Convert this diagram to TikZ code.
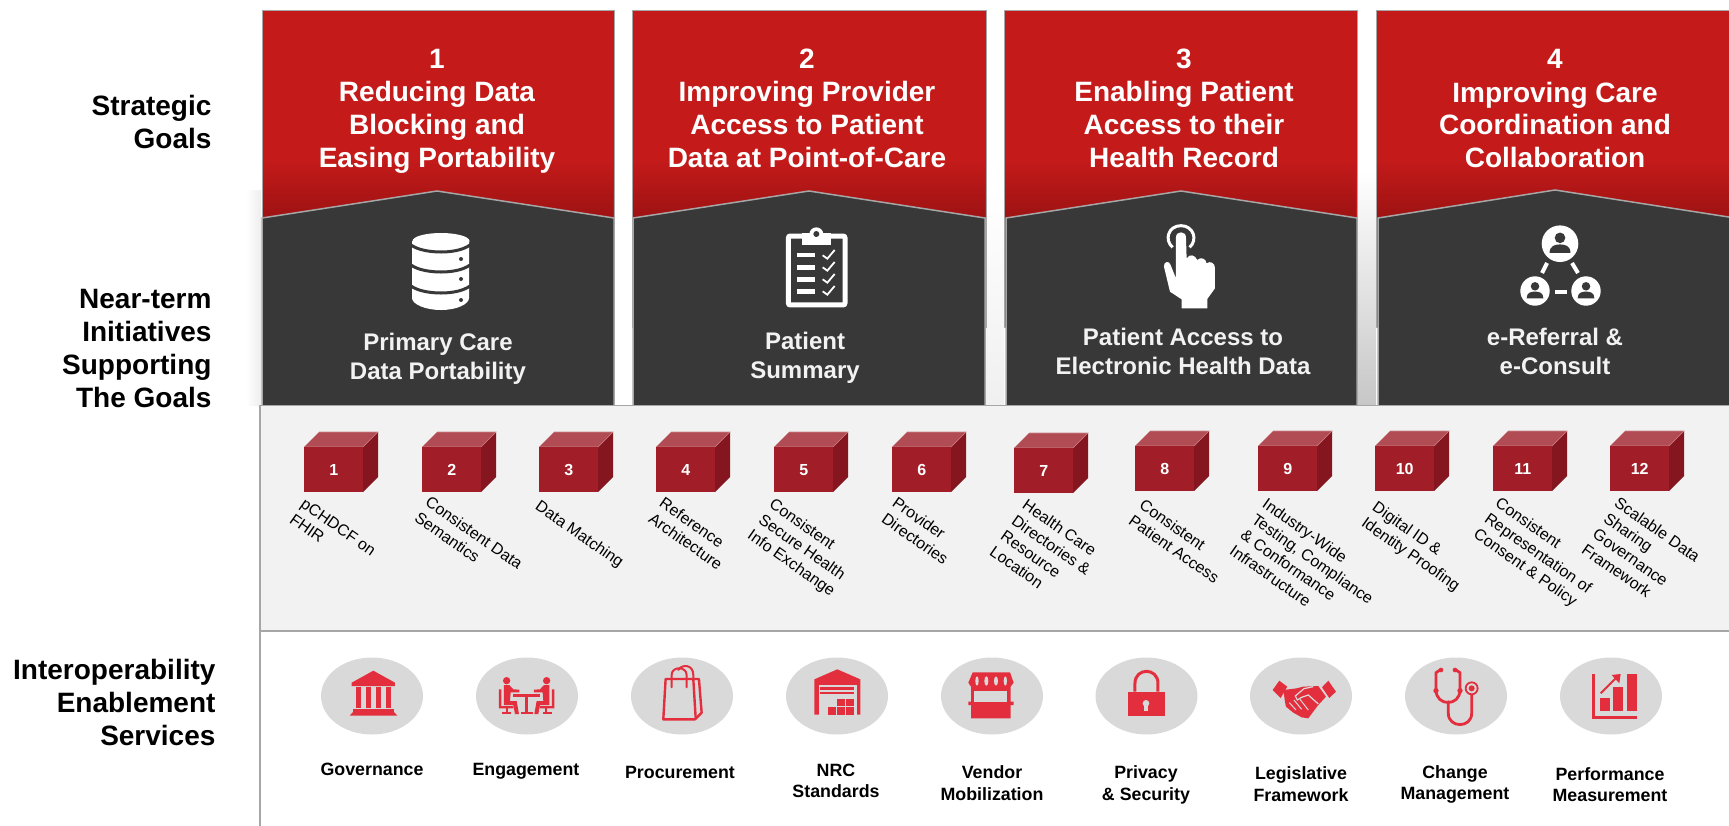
\documentclass[tikz,border=0pt]{standalone}
\usepackage{fontspec}
\setmainfont{Liberation Sans}
\usetikzlibrary{shapes.geometric}
\definecolor{goalred}{HTML}{C41A1A}
\definecolor{goaldeep}{HTML}{9C1212}
\definecolor{roofdark}{HTML}{383838}
\definecolor{edgegrey}{HTML}{A6A6A6}
\definecolor{panelgrey}{HTML}{F2F2F2}
\definecolor{ovalgrey}{HTML}{D9D9D9}
\definecolor{iconred}{HTML}{E32F3D}
\definecolor{cubefront}{HTML}{A11E28}
\definecolor{cubetop}{HTML}{B24C54}
\definecolor{cubeside}{HTML}{851620}
\tikzstyle{goalbox} = [fill=goalred, draw=edgegrey, line width=1pt]
\tikzstyle{roofbox} = [fill=roofdark, draw=edgegrey, line width=1.5pt]
\tikzstyle{goaltext} = [align=center, text=white, font=\fontsize{28}{33}\selectfont\bfseries]
\tikzstyle{rooftext} = [align=center, text=panelgrey, font=\fontsize{24}{29}\selectfont\bfseries]
\tikzstyle{rowtext} = [align=right, anchor=east, font=\fontsize{28}{33}\selectfont\bfseries]
\tikzstyle{cubenum} = [fill=cubefront, text=white, minimum width=59pt, minimum height=45pt, inner sep=0pt, anchor=north west, font=\fontsize{16}{16}\selectfont\bfseries]
\tikzstyle{cubetext} = [align=left, rotate=-35, anchor=north west, inner sep=0pt, font=\fontsize{16}{19}\selectfont]
\tikzstyle{oval} = [ellipse, fill=ovalgrey, minimum width=102pt, minimum height=77pt, inner sep=0pt]
\tikzstyle{ovaltext} = [align=center, font=\fontsize{17.8}{21.5}\selectfont\bfseries]
\tikzstyle{iconline} = [draw=iconred, line width=2.4pt, line cap=round, line join=round]
\newcommand{\cube}[4]{
\fill[cubetop] (#2,#3) -- ++(15,-15) -- ++(59,0) -- ++(-15,15) -- cycle;
\fill[cubeside] (#2+59,#3) -- ++(15,-15) -- ++(0,45) -- ++(-15,15) -- cycle;
\draw[cubetop!70!white, line width=.6pt] (#2,#3) -- ++(59,0) -- ++(15,-15) -- ++(-59,0);
\draw(#2,#3) node[cubenum](#1){#4};
}
\newcommand{\personicon}[3]{
\begin{scope}[shift={(#1,#2)},scale=#3]
\fill[white] (0,0) circle (10);
\fill[roofdark] (0,-3.2) circle (2.9);
\fill[roofdark] (-5.7,5) .. controls (-5.7,1) and (-2.5,0.4) .. (0,0.4) .. controls (2.5,0.4) and (5.7,1) .. (5.7,5) -- cycle;
\end{scope}
}
\newcommand{\sitter}{
\fill[iconred] (620,122) circle (11);
\fill[iconred] (612,135) -- (628,135) -- (640,148) -- (658,149) -- (658,157) -- (632,157) -- (630,183) -- (650,183) -- (657,222) -- (645,222) -- (640,195) -- (612,195) -- cycle;
\fill[iconred] (597,148) -- (604,148) -- (604,198) -- (640,198) -- (640,205) -- (597,205) -- cycle;
\fill[iconred] (618,205) rectangle (624,216);
\fill[iconred] (605,216) rectangle (632,223);
}
\begin{document}
\begin{tikzpicture}[x=1pt,y=-1pt]
\useasboundingbox (0,0) rectangle (1729,825);
\clip (0,0) rectangle (1729,825);
\shade[left color=white, right color=black!7] (246,190) rectangle (261,405);
\shade[top color=white, bottom color=black!6] (986,190) rectangle (1004,405);
\shade[top color=white, bottom color=black!22] (1357,170) rectangle (1376,405);
\filldraw[goalbox] (262,10) rectangle (614,327);
\filldraw[goalbox] (632,10) rectangle (986,327);
\filldraw[goalbox] (1004,10) rectangle (1357,327);
\filldraw[goalbox] (1376,10) rectangle (1740,327);
\shade[top color=goalred, bottom color=goaldeep] (263,160) rectangle (613,220);
\shade[top color=goalred, bottom color=goaldeep] (633,160) rectangle (985,220);
\shade[top color=goalred, bottom color=goaldeep] (1005,160) rectangle (1356,220);
\shade[top color=goalred, bottom color=goaldeep] (1377,160) rectangle (1740,220);
\filldraw[roofbox] (262,218) -- (437,191) -- (614,218) -- (614,406) -- (262,406) -- cycle;
\filldraw[roofbox] (633,218) -- (809,191) -- (985,218) -- (985,406) -- (633,406) -- cycle;
\filldraw[roofbox] (1006,218) -- (1181,191) -- (1357,218) -- (1357,406) -- (1006,406) -- cycle;
\filldraw[roofbox] (1378,218) -- (1555,190) -- (1735,218) -- (1735,406) -- (1378,406) -- cycle;
\filldraw[fill=panelgrey, draw=edgegrey, line width=1.5pt] (260,405.5) rectangle (1740,631);
\draw[edgegrey, line width=1.5pt] (260,631) -- (260,830);
\draw(215,122) node[rowtext](rowgoals){Strategic\\Goals};
\draw(215,348) node[rowtext](rowinit){Near-term\\Initiatives\\Supporting\\The Goals};
\draw(219,702) node[rowtext](rowserv){Interoperability\\Enablement\\Services};
\draw(437,111) node[goaltext](goal1){1\\Reducing Data\\Blocking and\\Easing Portability};
\draw(807,108) node[goaltext](goal2){2\\Improving Provider\\Access to Patient\\Data at Point-of-Care};
\draw(1184,108) node[goaltext](goal3){3\\Enabling Patient\\Access to their\\Health Record};
\draw(1555,109) node[goaltext](goal4){4\\Improving Care\\Coordination and\\Collaboration};
\draw(438,359) node[rooftext](init1){Primary Care\\Data Portability};
\draw(805,358) node[rooftext](init2){Patient\\Summary};
\draw(1183,351) node[rooftext](init3){Patient Access to\\Electronic Health Data};
\draw(1555,351) node[rooftext](init4){e-Referral \&\\e-Consult};
\fill[white] (412,241) -- (412,298) .. controls (412,304) and (425,310) .. (441,310) .. controls (457,310) and (469,304) .. (469,298) -- (469,241) -- cycle;
\fill[white] (441,241) ellipse [x radius=28.5, y radius=8];
\draw[roofdark, line width=3pt] (411,245) .. controls (418,250) and (430,252) .. (441,252) .. controls (452,252) and (463,250) .. (470,245);
\draw[roofdark, line width=3pt] (411,265) .. controls (418,270) and (430,272) .. (441,272) .. controls (452,272) and (463,270) .. (470,265);
\draw[roofdark, line width=3pt] (411,286) .. controls (418,291) and (430,293) .. (441,293) .. controls (452,293) and (463,291) .. (470,286);
\fill[roofdark] (461,259) circle (2pt);
\fill[roofdark] (461,279) circle (2pt);
\fill[roofdark] (461,300) circle (2pt);
\begin{scope}[shift={(760,200)},scale=.3333]
\draw[white, line width=5pt, rounded corners=2pt] (85,108) rectangle (255,315);
\fill[white] (127,100) rectangle (212,136);
\fill[white] (169,103) circle (21);
\fill[roofdark] (169,102) circle (9);
\fill[white] (112,160) rectangle (164,172);
\fill[white] (110,194) rectangle (165,210);
\fill[white] (110,230) rectangle (165,246);
\fill[white] (110,266) rectangle (165,282);
\draw[white, line width=1.8pt] (188,166) -- (202,176) -- (224,150);
\draw[white, line width=1.8pt] (188,202) -- (202,212) -- (224,186);
\draw[white, line width=1.8pt] (188,238) -- (202,248) -- (224,222);
\draw[white, line width=1.8pt] (188,274) -- (202,284) -- (224,258);
\end{scope}
\begin{scope}[shift={(760,200)},scale=.3333]
\draw[white, line width=3pt] (1238,142) .. controls (1212,120) and (1225,77) .. (1263,77) .. controls (1301,77) and (1314,120) .. (1289,142);
\fill[white] (1248,112) .. controls (1248,92) and (1278,92) .. (1278,112) -- (1280,175) .. controls (1290,160) and (1305,165) .. (1312,180) .. controls (1322,170) and (1338,175) .. (1340,190) .. controls (1350,182) and (1366,188) .. (1365,205) -- (1365,265) -- (1342,297) -- (1342,325) -- (1265,325) -- (1265,298) -- (1230,275) -- (1212,200) .. controls (1210,185) and (1228,180) .. (1232,195) -- (1248,235) -- cycle;
\end{scope}
\personicon{1560}{243.7}{1.83}
\personicon{1535}{291}{1.47}
\personicon{1586}{291}{1.47}
\draw[white, line width=4pt] (1547,263) -- (1542,273);
\draw[white, line width=4pt] (1572,263) -- (1578,273);
\draw[white, line width=4pt] (1555,292) -- (1567,292);
\cube{cube1}{304}{447}{1}
\cube{cube2}{422}{447}{2}
\cube{cube3}{539}{447}{3}
\cube{cube4}{656}{447}{4}
\cube{cube5}{774}{447}{5}
\cube{cube6}{892}{447}{6}
\cube{cube7}{1014}{448}{7}
\cube{cube8}{1135}{446}{8}
\cube{cube9}{1258}{446}{9}
\cube{cube10}{1375}{446}{10}
\cube{cube11}{1493}{446}{11}
\cube{cube12}{1610}{446}{12}
\draw(306,497) node[cubetext](item1){pCHDCF on\\FHIR};
\draw(431,495) node[cubetext](item2){Consistent Data\\Semantics};
\draw(541,499) node[cubetext](item3){Data Matching};
\draw(665,496) node[cubetext](item4){Reference\\Architecture};
\draw(775,497) node[cubetext](item5){Consistent\\Secure Health\\Info Exchange};
\draw(898,496) node[cubetext](item6){Provider\\Directories};
\draw(1028,498) node[cubetext](item7){Health Care\\Directories \&\\Resource\\Location};
\draw(1145,498) node[cubetext](item8){Consistent\\Patient Access};
\draw(1268,497) node[cubetext](item9){Industry-Wide\\Testing, Compliance\\\& Conformance\\Infrastructure};
\draw(1378,500) node[cubetext](item10){Digital ID \&\\Identity Proofing};
\draw(1501,496) node[cubetext](item11){Consistent\\Representation of\\Consent \& Policy};
\draw(1620,496) node[cubetext](item12){Scalable Data\\Sharing\\Governance\\Framework};
\draw(372,696) node[oval](oval1){};
\draw(527,696) node[oval](oval2){};
\draw(682,696) node[oval](oval3){};
\draw(837,696) node[oval](oval4){};
\draw(992,696) node[oval](oval5){};
\draw(1146.5,696) node[oval](oval6){};
\draw(1301,696) node[oval](oval7){};
\draw(1456,696) node[oval](oval8){};
\draw(1611,696) node[oval](oval9){};
\draw(372,769) node[ovaltext](serv1){Governance};
\draw(526,771) node[ovaltext](serv2){Engagement};
\draw(680,772) node[ovaltext](serv3){Procurement};
\draw(836,781) node[ovaltext](serv4){NRC\\Standards};
\draw(992,783) node[ovaltext](serv5){Vendor\\Mobilization};
\draw(1146,785) node[ovaltext](serv6){Privacy\\\& Security};
\draw(1301,784) node[ovaltext](serv7){Legislative\\Framework};
\draw(1455,784.5) node[ovaltext](serv8){Change\\Management};
\draw(1610,784.5) node[ovaltext](serv9){Performance\\Measurement};
\begin{scope}[shift={(300,640)},scale=.3333]
\fill[iconred] (220,92) -- (285,128) -- (285,138) -- (155,138) -- (155,128) -- cycle;
\fill[iconred] (167,142) rectangle (183,205);
\fill[iconred] (198,142) rectangle (212,205);
\fill[iconred] (228,142) rectangle (242,205);
\fill[iconred] (258,142) rectangle (273,205);
\fill[iconred] (160,207) rectangle (281,215);
\fill[iconred] (160,215) -- (281,215) -- (292,227) -- (149,227) -- cycle;
\fill[iconred] (640,163) rectangle (720,170);
\fill[iconred] (675,170) rectangle (685,215);
\fill[iconred] (663,215) rectangle (698,223);
\sitter
\begin{scope}[shift={(1360,0)},xscale=-1]
\sitter
\end{scope}
\draw[iconline] (1097,117) -- (1197,117) -- (1205,218) -- (1185,238) -- (1090,238) -- cycle;
\draw[iconline] (1180,117) -- (1187,232);
\draw[iconline, line width=2pt] (1115,142) -- (1115,105) .. controls (1115,78) and (1160,78) .. (1160,105) -- (1160,142);
\draw[iconline, line width=2pt] (1135,90) .. controls (1145,72) and (1180,72) .. (1180,105) -- (1180,117);
\end{scope}
\begin{scope}[shift={(760,650)},scale=.3333]
\fill[iconred] (163,88) -- (232,58) -- (301,88) -- (301,194) -- (163,194) -- cycle;
\fill[ovalgrey] (176,105) rectangle (290,196);
\fill[iconred] (180,111) rectangle (282,119);
\fill[iconred] (180,125) rectangle (282,133);
\fill[iconred] (232,148) rectangle (255,168);
\fill[iconred] (259,148) rectangle (283,168);
\fill[iconred] (205,172) rectangle (229,194);
\fill[iconred] (232,172) rectangle (256,194);
\fill[iconred] (259,172) rectangle (283,194);
\end{scope}
\begin{scope}[shift={(900,640)},scale=.3333]
\fill[iconred] (218,97) -- (330,97) -- (341,128) -- (332,140) -- (332,185) -- (341,185) -- (341,195) -- (332,195) -- (332,235) -- (213,235) -- (213,195) -- (205,195) -- (205,185) -- (213,185) -- (213,140) -- (205,128) -- cycle;
\fill[ovalgrey] (223,152) rectangle (322,185);
\fill[ovalgrey] (231,123) ellipse [x radius=5, y radius=14];
\fill[ovalgrey] (259,123) ellipse [x radius=6, y radius=14];
\fill[ovalgrey] (288,123) ellipse [x radius=6, y radius=14];
\fill[ovalgrey] (316,123) ellipse [x radius=5, y radius=14];
\fill[iconred] (685,155) rectangle (794,228);
\draw[iconred, line width=3pt] (705,155) -- (705,130) .. controls (705,82) and (774,82) .. (774,130) -- (774,155);
\fill[ovalgrey] (738,190) circle (10);
\fill[ovalgrey] (733,190) rectangle (743,212);
\fill[iconred] (1118,150) -- (1138,122) -- (1162,140) -- (1142,174) -- cycle;
\fill[iconred] (1266,142) -- (1285,122) -- (1308,155) -- (1288,174) -- cycle;
\fill[iconred] (1150,150) -- (1190,145) -- (1210,140) -- (1255,138) -- (1278,170) -- (1255,195) -- (1225,235) -- (1205,232) -- (1180,218) -- (1158,200) -- (1155,185) -- cycle;
\draw[ovalgrey, line width=1.2pt] (1255,192) -- (1225,165) -- (1205,172) -- (1192,180) -- (1186,168) -- (1212,146) -- (1240,140);
\draw[ovalgrey, line width=1pt] (1168,188) -- (1188,210);
\draw[ovalgrey, line width=1pt] (1182,180) -- (1205,208);
\draw[ovalgrey, line width=1pt] (1200,178) -- (1225,210);
\end{scope}
\begin{scope}[shift={(1380,650)},scale=.3333]
\fill[iconred] (183,60) circle (7);
\fill[iconred] (225,60) circle (7);
\draw[iconline, line width=2.8pt] (180,60) -- (168,68) -- (168,120) .. controls (168,170) and (240,170) .. (240,120) -- (240,68) -- (228,60);
\fill[iconred] (168,122) circle (8);
\fill[iconred] (240,122) circle (8);
\draw[iconline, line width=2.8pt] (205,155) -- (205,190) .. controls (205,235) and (275,235) .. (275,190) -- (275,135);
\draw[iconred, line width=1.8pt] (275,115) circle (18);
\fill[iconred] (275,115) circle (9);
\fill[iconred] (637,72) rectangle (646,207);
\fill[iconred] (637,198) rectangle (770,207);
\fill[iconred] (660,145) rectangle (689,183);
\fill[iconred] (700,110) rectangle (729,183);
\fill[iconred] (740,72) rectangle (770,183);
\draw[iconred, line width=1.8pt] (662,130) -- (712,80);
\fill[iconred] (695,75) -- (722,72) -- (718,100) -- cycle;
\end{scope}
\end{tikzpicture}
\end{document}
